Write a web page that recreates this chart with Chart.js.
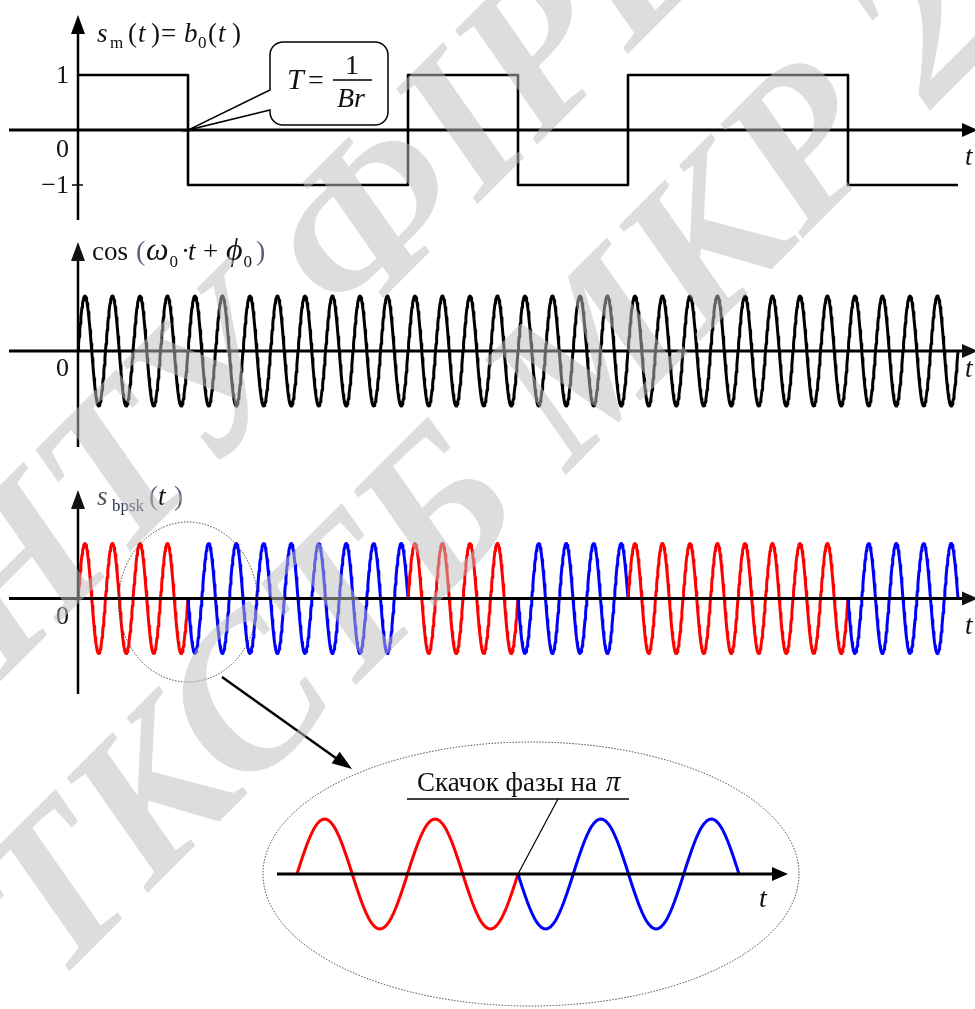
<!DOCTYPE html>
<html>
<head>
<meta charset="utf-8">
<script src="https://cdn.jsdelivr.net/npm/chart.js@4"></script>
<style>
  html, body { margin: 0; padding: 0; background: #fff; overflow: hidden; }
  #wrap { position: relative; width: 975px; height: 1009px; }
  canvas { display: block; }
</style>
</head>
<body>
<div id="wrap"><canvas id="c" width="975" height="1009"></canvas></div>
<script>
// Binary message b0(t): one symbol per bit interval T
const bits = [1, -1, -1, 1, -1, 1, 1, -1];
// carrier periods inside one bit interval
const cyclesPerBit = 4;
const samplesPerCycle = 48;
// magnified view: the two symbols around the first phase jump
const zoomBits = [1, -1];
const zoomCyclesPerBit = 2;
// level labels of the message plot
const levelTicks = [1, 0, -1];
const levelLabels = ['1', '0', '\u22121'];

const W = 975, H = 1009;
const BIT_PX = 110, ORIGIN_X = 78, AMP_PX = 55;
const ZOOM_ORIGIN_X = 297, ZOOM_CYCLE_PX = 110.5;
const RED = '#ff0000', BLUE = '#0000ff', INK = '#111111';

function yRange(zeroPx) {
  return { min: -(H - zeroPx) / AMP_PX, max: zeroPx / AMP_PX };
}

// message as a stepped level sequence
const msgData = bits.map((b, i) => ({ x: i, y: b }));
msgData.push({ x: bits.length, y: bits[bits.length - 1] });

// carrier and BPSK samples
const perBit = cyclesPerBit * samplesPerCycle;
const carrierData = [], bpskData = [];
for (let k = 0; k <= bits.length * perBit; k++) {
  const t = k / perBit;
  const s = Math.sin(2 * Math.PI * k / samplesPerCycle);
  const bi = Math.min(Math.floor(k / perBit), bits.length - 1);
  carrierData.push({ x: t, y: s });
  bpskData.push({ x: t, y: bits[bi] * s });
}
const zPerBit = zoomCyclesPerBit * samplesPerCycle;
const zoomData = [];
for (let k = 0; k <= zoomBits.length * zPerBit; k++) {
  const bi = Math.min(Math.floor(k / zPerBit), zoomBits.length - 1);
  zoomData.push({ x: k / samplesPerCycle, y: zoomBits[bi] * Math.sin(2 * Math.PI * k / samplesPerCycle) });
}

function symbolColor(arr, per) {
  return (ctx) => arr[Math.min(Math.floor(ctx.p0DataIndex / per), arr.length - 1)] > 0 ? RED : BLUE;
}

function arrowHead(ctx, tx, ty, dx, dy, len, half) {
  const n = Math.hypot(dx, dy); dx /= n; dy /= n;
  const bx = tx - dx * len, by = ty - dy * len;
  ctx.beginPath();
  ctx.moveTo(tx, ty);
  ctx.lineTo(bx - dy * half, by + dx * half);
  ctx.lineTo(bx + dy * half, by - dx * half);
  ctx.closePath();
  ctx.fill();
}

function text(ctx, s, x, y, font, color, align) {
  ctx.font = font;
  ctx.fillStyle = color || INK;
  ctx.textAlign = align || 'left';
  ctx.textBaseline = 'alphabetic';
  ctx.fillText(s, x, y);
  return x + ctx.measureText(s).width;
}

const SERIF = '"Liberation Serif", "DejaVu Serif", serif';
const R = (px) => px + 'px ' + SERIF;
const I = (px) => 'italic ' + px + 'px ' + SERIF;
const PAREN = '#56657a';

const diagram = {
  id: 'diagram',
  afterDatasetsDraw(chart) {
    const { ctx, scales } = chart;
    const sx = scales.x, xz = scales.xz;
    const ox = sx.getPixelForValue(0);
    ctx.save();
    ctx.strokeStyle = '#000';
    ctx.fillStyle = '#000';
    ctx.lineCap = 'butt';

    // axes of the three time plots
    const panels = [
      { id: 'y1', top: 15, bottom: 220 },
      { id: 'y2', top: 242, bottom: 447 },
      { id: 'y3', top: 490, bottom: 694 }
    ];
    panels.forEach(p => {
      const y0 = scales[p.id].getPixelForValue(0);
      ctx.lineWidth = 3;
      ctx.beginPath(); ctx.moveTo(9, y0); ctx.lineTo(966, y0); ctx.stroke();
      arrowHead(ctx, 978, y0, 1, 0, 16, 7);
      ctx.lineWidth = 2.5;
      ctx.beginPath(); ctx.moveTo(ox, p.bottom); ctx.lineTo(ox, p.top + 12); ctx.stroke();
      arrowHead(ctx, ox, p.top, 0, -1, 19, 7);
      text(ctx, 't', 965, y0 + (p.id === 'y2' ? 26 : 35), I(27));
    });

    // level labels of the message plot
    const y1 = scales.y1;
    levelTicks.forEach((v, i) => {
      const py = y1.getPixelForValue(v);
      text(ctx, levelLabels[i], ox - 9, py + (v === 0 ? 27 : 8), R(26), INK, 'right');
    });
    ctx.lineWidth = 1.5;
    const ym1 = y1.getPixelForValue(-1);
    ctx.beginPath(); ctx.moveTo(ox - 6, ym1); ctx.lineTo(ox + 5, ym1); ctx.stroke();
    ['y2', 'y3'].forEach(id => {
      text(ctx, '0', ox - 9, scales[id].getPixelForValue(0) + 25, R(26), INK, 'right');
    });

    // plot titles
    text(ctx, 's', 97, 42, I(27));
    text(ctx, 'm', 110, 48, R(17));
    text(ctx, '(', 128, 42, R(27));
    text(ctx, 't', 138, 42, I(27));
    text(ctx, ')', 151, 42, R(27));
    text(ctx, '=', 161, 42, R(27));
    text(ctx, 'b', 184, 42, I(27));
    text(ctx, '0', 198, 48, R(17));
    text(ctx, '(', 208, 42, R(27));
    text(ctx, 't', 218, 42, I(27));
    text(ctx, ')', 232, 42, R(27));

    text(ctx, 'cos', 92, 260, R(27));
    text(ctx, '(', 136, 260, R(28), PAREN);
    let e = text(ctx, '\u03C9', 146, 260, I(32));
    text(ctx, '0', e + 1, 267, R(17));
    text(ctx, '\u00B7', 181, 260, R(27));
    text(ctx, 't', 188, 260, I(27));
    text(ctx, '+', 203, 260, R(27));
    e = text(ctx, '\u03D5', 226, 260, I(32));
    e = text(ctx, '0', e + 1, 267, R(17));
    text(ctx, ')', e + 4, 260, R(28), PAREN);

    text(ctx, 's', 97, 505, I(27), '#5b5048');
    text(ctx, 'bpsk', 112, 511, R(17), '#2e3350');
    text(ctx, '(', 149, 505, R(27), PAREN);
    text(ctx, 't', 158, 505, I(27));
    text(ctx, ')', 174, 505, R(27), PAREN);

    // callout T = 1/Br pointing at the first bit boundary
    const tipX = sx.getPixelForValue(1), tipY = y1.getPixelForValue(0);
    const L = 270, T = 42, Rr = 388, B = 125, rad = 13;
    ctx.lineWidth = 1.5;
    ctx.beginPath();
    ctx.moveTo(L + rad, T);
    ctx.lineTo(Rr - rad, T);
    ctx.arcTo(Rr, T, Rr, T + rad, rad);
    ctx.lineTo(Rr, B - rad);
    ctx.arcTo(Rr, B, Rr - rad, B, rad);
    ctx.lineTo(L + rad, B);
    ctx.arcTo(L, B, L, B - rad, rad);
    ctx.lineTo(L, 110);
    ctx.lineTo(tipX, tipY);
    ctx.lineTo(L, 90);
    ctx.lineTo(L, T + rad);
    ctx.arcTo(L, T, L + rad, T, rad);
    ctx.closePath();
    ctx.fillStyle = '#fff';
    ctx.fill();
    ctx.stroke();
    text(ctx, 'T', 287, 89, I(30));
    text(ctx, '=', 308, 89, R(28));
    ctx.lineWidth = 1.6;
    ctx.beginPath(); ctx.moveTo(333, 80); ctx.lineTo(372, 80); ctx.stroke();
    text(ctx, '1', 352, 74, R(28), INK, 'center');
    text(ctx, 'Br', 351, 107, I(28), INK, 'center');

    // dotted marker round the first phase jump
    ctx.strokeStyle = '#444';
    ctx.lineWidth = 1;
    ctx.setLineDash([1.5, 1.5]);
    ctx.beginPath();
    ctx.ellipse(tipX, 602, 69.5, 80, 0, 0, 2 * Math.PI);
    ctx.stroke();
    // magnified view outline
    const yz = scales.yz;
    const zy0 = yz.getPixelForValue(0);
    ctx.beginPath();
    ctx.ellipse(531, zy0, 268, 132, 0, 0, 2 * Math.PI);
    ctx.stroke();
    ctx.setLineDash([]);

    // pointer from the marker to the magnified view
    ctx.strokeStyle = '#000';
    ctx.fillStyle = '#000';
    ctx.lineWidth = 2.5;
    ctx.beginPath(); ctx.moveTo(222, 677); ctx.lineTo(340, 761); ctx.stroke();
    arrowHead(ctx, 352, 769, 130, 92, 20, 7);

    // time axis of the magnified view
    ctx.lineWidth = 3;
    ctx.beginPath(); ctx.moveTo(277, zy0); ctx.lineTo(776, zy0); ctx.stroke();
    arrowHead(ctx, 788, zy0, 1, 0, 16, 7);
    text(ctx, 't', 759, zy0 + 33, I(28));

    // phase jump annotation
    text(ctx, '\u0421\u043A\u0430\u0447\u043E\u043A \u0444\u0430\u0437\u044B \u043D\u0430', 417, 791, R(27));
    text(ctx, '\u03C0', 606, 791, I(29));
    ctx.lineWidth = 1.5;
    ctx.beginPath(); ctx.moveTo(407, 799); ctx.lineTo(629, 799); ctx.stroke();
    ctx.lineWidth = 1.2;
    ctx.beginPath(); ctx.moveTo(558, 799); ctx.lineTo(xz.getPixelForValue(zoomCyclesPerBit), zy0); ctx.stroke();
    ctx.restore();
  },
  afterDraw(chart) {
    // diagonal watermark
    const ctx = chart.ctx;
    ctx.save();
    ctx.rotate(-Math.PI / 4);
    ctx.font = 'italic bold 212px "Liberation Serif", serif';
    ctx.fillStyle = 'rgba(190,190,190,0.52)';
    ctx.textAlign = 'left';
    ctx.textBaseline = 'alphabetic';
    ctx.fillText('\u041D\u0422\u0423 \u0424\u0406\u0420\u0415', -480, 482);
    ctx.fillText('\u0422\u041A\u0421\u0422\u0411 \u041C\u041A\u0420 20', -655, 736);
    ctx.restore();
  }
};

new Chart(document.getElementById('c'), {
  type: 'line',
  data: {
    datasets: [
      { label: 'b0', data: msgData, xAxisID: 'x', yAxisID: 'y1', stepped: 'before',
        borderColor: '#000', borderWidth: 2.6 },
      { label: 'carrier', data: carrierData, xAxisID: 'x', yAxisID: 'y2',
        borderColor: '#000', borderWidth: 3 },
      { label: 'bpsk', data: bpskData, xAxisID: 'x', yAxisID: 'y3',
        borderColor: RED, borderWidth: 3,
        segment: { borderColor: symbolColor(bits, perBit) } },
      { label: 'zoom', data: zoomData, xAxisID: 'xz', yAxisID: 'yz',
        borderColor: RED, borderWidth: 3,
        segment: { borderColor: symbolColor(zoomBits, zPerBit) } }
    ]
  },
  options: {
    responsive: false,
    devicePixelRatio: 1,
    animation: false,
    events: [],
    parsing: false,
    normalized: true,
    layout: { padding: 0 },
    elements: { point: { radius: 0 }, line: { tension: 0, borderJoinStyle: 'round', fill: false } },
    plugins: { legend: { display: false }, tooltip: { enabled: false }, title: { display: false } },
    scales: {
      x: { type: 'linear', display: false, min: -ORIGIN_X / BIT_PX, max: (W - ORIGIN_X) / BIT_PX },
      xz: { type: 'linear', axis: 'x', display: false, min: -ZOOM_ORIGIN_X / ZOOM_CYCLE_PX, max: (W - ZOOM_ORIGIN_X) / ZOOM_CYCLE_PX },
      y1: Object.assign({ type: 'linear', axis: 'y', display: false }, yRange(130)),
      y2: Object.assign({ type: 'linear', axis: 'y', display: false }, yRange(351)),
      y3: Object.assign({ type: 'linear', axis: 'y', display: false }, yRange(598.5)),
      yz: Object.assign({ type: 'linear', axis: 'y', display: false }, yRange(874))
    }
  },
  plugins: [diagram]
});
</script>
</body>
</html>
